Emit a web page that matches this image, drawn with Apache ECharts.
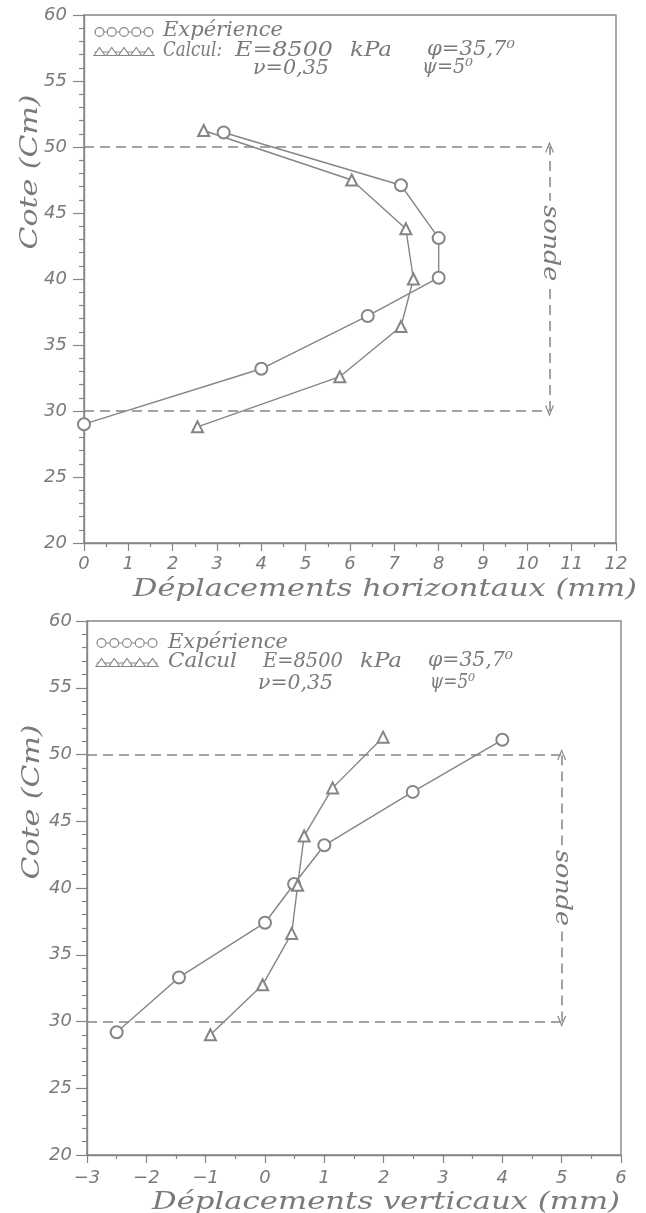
<!DOCTYPE html>
<html><head><meta charset="utf-8">
<script src="https://cdn.jsdelivr.net/npm/echarts@6/dist/echarts.min.js"></script>
<style>html,body{margin:0;padding:0;background:#fff}#c{width:646px;height:1213px}</style>
</head><body><div id="c"></div>
<script>
// ---------- data ----------
// top chart: horizontal displacements (mm) vs cote (cm)
const coteExpH = [29.0, 33.2, 37.2, 40.1, 43.1, 47.1, 51.1];
const dispExpH = [0.0, 4.0, 6.4, 8.0, 8.0, 7.15, 3.15];
const coteCalH = [28.8, 32.6, 36.4, 40.0, 43.8, 47.5, 51.25];
const dispCalH = [2.56, 5.77, 7.15, 7.43, 7.26, 6.04, 2.70];
// bottom chart: vertical displacements (mm) vs cote (cm)
const coteExpV = [29.2, 33.3, 37.4, 40.3, 43.2, 47.2, 51.1];
const dispExpV = [-2.5, -1.45, 0.0, 0.49, 1.0, 2.49, 4.0];
const coteCalV = [29.0, 32.75, 36.6, 40.2, 43.9, 47.5, 51.3];
const dispCalV = [-0.92, -0.04, 0.45, 0.55, 0.66, 1.14, 1.99];
// tick labels
const xTicksH = [0,1,2,3,4,5,6,7,8,9,10,11,12];
const xTicksV = [-3,-2,-1,0,1,2,3,4,5,6];
const yTicks = [20,25,30,35,40,45,50,55,60];
// probe ("sonde") annotation
const probeTop = 50, probeBottom = 30;
const probeXH = 10.5, probeXV = 5;
const sondeCoteH = 42.7, sondeCoteV = 40;
// texts
const seriesNames = ['Expérience', 'Calcul'];
const xTitleH = 'Déplacements horizontaux (mm)';
const xTitleV = 'Déplacements verticaux (mm)';
const yTitle = 'Cote (Cm)';

// ---------- style ----------
const LINE = '#858585', TXT = '#7a7a7a';
const SERIF = '"DejaVu Serif", "Liberation Serif", serif';
const SANS = '"DejaVu Sans", "Liberation Sans", sans-serif';

const mctx = document.createElement('canvas').getContext('2d');
function measure(t, size, fam){ mctx.font = 'italic ' + size + 'px ' + fam; return mctx.measureText(t).width; }
function fitText(t, x, y, w, size, opt){
  opt = opt || {};
  const fam = opt.fam || SERIF;
  const m = measure(t, size, fam);
  return {type:'text', x:x, y:y, rotation: opt.rot || 0, scaleX: w / m, z: 10,
    style:{text:t, fontSize:size, fontFamily:fam, fontStyle:'italic', fill:TXT,
      align: opt.align || 'left', verticalAlign:'middle',
      backgroundColor: opt.bg, padding: opt.pad}};
}
function pairs(xs, ys){ return xs.map((v,i)=>[v, ys[i]]); }

const chart = echarts.init(document.getElementById('c'), null, {renderer:'canvas'});

function xAxisCfg(grid, ticks, margin){
  return {type:'value', gridIndex:grid, min:ticks[0], max:ticks[ticks.length-1], interval:1,
    axisLine:{show:true, onZero:false, lineStyle:{color:LINE, width:1.4}},
    axisTick:{show:true, inside:false, length:8, lineStyle:{color:LINE, width:1.2}},
    minorTick:{show:true, splitNumber:2, length:4, lineStyle:{color:LINE, width:1.2}},
    splitLine:{show:false},
    axisLabel:{margin:margin, color:TXT, fontSize:18, fontStyle:'italic', fontFamily:SANS,
      formatter:v=>String(v).replace('-', '\u2212'), showMinLabel:true, showMaxLabel:true}};
}
function yAxisCfg(grid, margin){
  return {type:'value', gridIndex:grid, min:yTicks[0], max:yTicks[yTicks.length-1], interval:5,
    axisLine:{show:true, onZero:false, lineStyle:{color:LINE, width:1.4}},
    axisTick:{show:true, inside:false, length:11, lineStyle:{color:LINE, width:1.2}},
    minorTick:{show:true, splitNumber:5, length:5, lineStyle:{color:LINE, width:1.2}},
    splitLine:{show:false},
    axisLabel:{margin:margin, color:TXT, fontSize:18, fontStyle:'italic', fontFamily:SANS,
      showMinLabel:true, showMaxLabel:true}};
}
function dataSeries(name, xi, data, sym){
  return {type:'line', name:name, xAxisIndex:xi, yAxisIndex:xi, data:data,
    symbol:sym, symbolSize: sym==='emptyCircle' ? 12 : 11, showSymbol:true,
    lineStyle:{color:LINE, width:1.4}, itemStyle:{color:LINE, borderColor:LINE, borderWidth:1.3},
    z:3, animation:false};
}
const CHEV = 'path://M0,10 L5,0 L10,10 L8.6,10 L5,2.8 L1.4,10 Z';
function probeSeries(xi, xmin, px){
  return {type:'line', xAxisIndex:xi, yAxisIndex:xi, data:[], animation:false,
    markLine:{silent:true, animation:false, symbol:['none','none'],
      lineStyle:{color:LINE, type:[10,6], width:1.5}, label:{show:false},
      data:[
        [{coord:[xmin, probeTop]}, {coord:[px, probeTop]}],
        [{coord:[xmin, probeBottom]}, {coord:[px, probeBottom]}],
        [{coord:[px, probeBottom], symbol:CHEV, symbolSize:[9,11]}, {coord:[px, probeTop], symbol:CHEV, symbolSize:[9,11]}]
      ]}};
}

chart.setOption({
  backgroundColor:'#fff',
  animation:false,
  grid:[
    {left:84, top:15, width:532, height:528, show:true, borderColor:LINE, borderWidth:1.4, backgroundColor:'transparent'},
    {left:87, top:621, width:534, height:534, show:true, borderColor:LINE, borderWidth:1.4, backgroundColor:'transparent'}
  ],
  xAxis:[xAxisCfg(0, xTicksH, 12), xAxisCfg(1, xTicksV, 14)],
  yAxis:[yAxisCfg(0, 17), yAxisCfg(1, 15)],
  series:[
    probeSeries(0, xTicksH[0], probeXH),
    probeSeries(1, xTicksV[0], probeXV),
    dataSeries(seriesNames[0], 0, pairs(dispExpH, coteExpH), 'emptyCircle'),
    dataSeries(seriesNames[1], 0, pairs(dispCalH, coteCalH), 'emptyTriangle'),
    dataSeries(seriesNames[0], 1, pairs(dispExpV, coteExpV), 'emptyCircle'),
    dataSeries(seriesNames[1], 1, pairs(dispCalV, coteCalV), 'emptyTriangle')
  ]
});

// ---------- legend & annotation graphics ----------
function legendRow(cxs, cy, kind){
  const els = [{type:'line', shape:{x1:cxs[0]-5, y1:cy, x2:cxs[cxs.length-1]+5, y2:cy}, style:{stroke:LINE, lineWidth:1.1}, z:10}];
  cxs.forEach(cx=>{
    if(kind==='c') els.push({type:'circle', shape:{cx:cx, cy:cy, r:4.4}, style:{fill:'#fff', stroke:LINE, lineWidth:1.1}, z:11});
    else els.push({type:'polygon', shape:{points:[[cx-5.5, cy+3.5],[cx+5.5, cy+3.5],[cx, cy-4.5]]}, style:{fill:'#fff', stroke:LINE, lineWidth:1.1}, z:11});
  });
  return els;
}
const g = [];
// top legend
g.push(...legendRow([99.5,111.75,124,136.25,148.5], 32, 'c'));
g.push(...legendRow([99.5,111.75,124,136.25,148.5], 52, 't'));
g.push(fitText(seriesNames[0], 163, 31, 120, 20));
g.push(fitText(seriesNames[1] + ':', 163, 51, 59, 20));
g.push(fitText('E=8500', 235, 51, 98, 20));
g.push(fitText('kPa', 350, 51, 42, 20));
g.push(fitText('\u03C6=35,7\u2070', 427, 50, 88, 20));
g.push(fitText('\u03BD=0,35', 253, 69, 76, 20));
g.push(fitText('\u03C8=5\u2070', 422, 68, 51, 20));
// bottom legend
g.push(...legendRow([101.5,114.25,127,139.75,152.5], 643, 'c'));
g.push(...legendRow([101.5,114.25,127,139.75,152.5], 663, 't'));
g.push(fitText(seriesNames[0], 168, 643, 120, 20));
g.push(fitText(seriesNames[1], 168, 662, 69, 20));
g.push(fitText('E=8500', 263, 662, 80, 20));
g.push(fitText('kPa', 360, 662, 42, 20));
g.push(fitText('\u03C6=35,7\u2070', 428, 661, 85, 20));
g.push(fitText('\u03BD=0,35', 258, 684, 75, 20));
g.push(fitText('\u03C8=5\u2070', 430, 683, 45, 20));
// axis titles
g.push(fitText(xTitleH, 637, 589, 504, 25, {align:'right'}));
g.push(fitText(xTitleV, 620, 1202, 468, 25, {align:'right'}));
g.push(fitText(yTitle, 30, 172, 155, 25, {align:'center', rot:Math.PI/2}));
g.push(fitText(yTitle, 32, 802, 155, 25, {align:'center', rot:Math.PI/2}));
// "sonde" labels placed through the axes' scales
const pH = chart.convertToPixel({gridIndex:0}, [probeXH, sondeCoteH]);
const pV = chart.convertToPixel({gridIndex:1}, [probeXV, sondeCoteV]);
g.push(fitText('sonde', pH[0], pH[1], 76, 22, {align:'center', rot:-Math.PI/2, bg:'#fff', pad:[0,4]}));
g.push(fitText('sonde', pV[0], pV[1], 76, 22, {align:'center', rot:-Math.PI/2, bg:'#fff', pad:[0,4]}));
chart.setOption({graphic:g});
</script></body></html>
